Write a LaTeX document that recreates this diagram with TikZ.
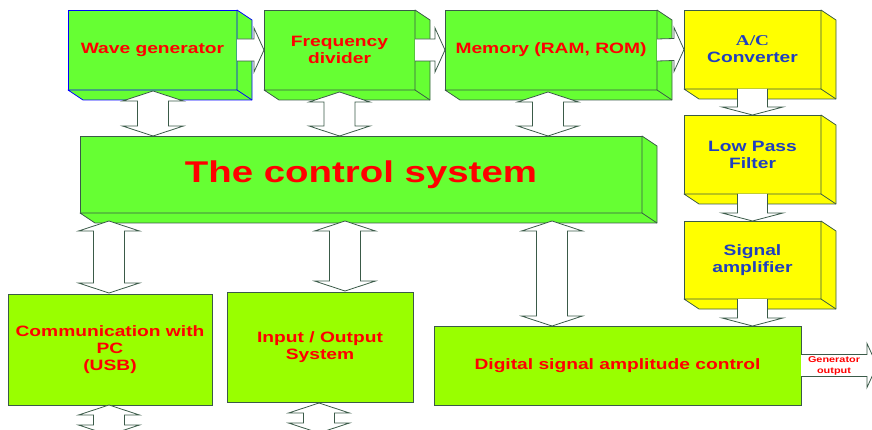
\documentclass[tikz,border=0pt]{standalone}
\usepackage{fontspec}
\setmainfont{Liberation Sans}[FakeStretch=1.28]
\newfontfamily\timesb{Liberation Serif}[FakeStretch=1.28]
\usetikzlibrary{calc}
\definecolor{gtop}{HTML}{66FF33}
\definecolor{gbot}{HTML}{99FF00}
\definecolor{ylw}{HTML}{FFFF00}
\definecolor{edge}{HTML}{3A5A48}
\definecolor{txtred}{HTML}{FF0000}
\definecolor{txtblue}{HTML}{1F3FC0}
\tikzset{
  blk/.style={draw=edge, line width=0.8pt, inner sep=0pt, outer sep=0pt, align=center,
    font=\bfseries\fontsize{15}{17}\selectfont, text=txtred},
  greenblk/.style={blk, fill=gtop},
  ylwblk/.style={blk, fill=ylw, text=txtblue},
  flatblk/.style={blk, fill=gbot},
  hollow/.style={draw=edge, fill=white, line width=0.8pt, line join=miter},
}
% extruded faces of a 3D block
\newcommand\depthfaces[3]{%
  \filldraw[fill=#2, draw=#3, line width=0.8pt, line join=round]
    (#1.north east) -- ++(15,10) -- ($(#1.south east)+(15,10)$) -- ($(#1.south west)+(15,10)$)
    -- (#1.south west) -- (#1.south east) -- cycle;
  \draw[draw=#3, line width=0.8pt] (#1.south east) -- ++(15,10);}
% vertical hollow double arrow, tips #1 (top) and #2 (bottom)
\newcommand\vdarrow[2]{%
  \draw[hollow] (#1) -- ++(30.5,10) -- ++(-15,0) -- ($(#2)+(15.5,-10)$) -- ++(15,0) -- (#2)
    -- ++(-30.5,-10) -- ++(15,0) -- ($(#1)+(-15.5,10)$) -- ++(-15,0) -- cycle;}
% downward hollow single arrow, tail #1, tip #2
\newcommand\vsarrow[2]{%
  \path[hollow] ($(#1)+(-15,0)$) -- ($(#2)+(-15,-8)$) -- ++(-15.5,0) -- (#2) -- ++(30.5,-8)
    -- ++(-15.5,0) -- ($(#1)+(15,0)$);}
% rightward hollow single arrow, tail #1, tip #2
\newcommand\hsarrow[2]{%
  \path[hollow] ($(#1)+(0,-11)$) -- ($(#2)+(-10,-11)$) -- ++(0,-11) -- (#2) -- ++(-10,22)
    -- ++(0,-11) -- ($(#1)+(0,11)$);}
\begin{document}
\begin{tikzpicture}[x=1pt, y=-1pt]
\useasboundingbox (0,0) rectangle (872,430);
\clip (0,0) rectangle (872,430);
% top row
\node[greenblk, draw=blue, minimum width=169pt, minimum height=80pt] (wave) at (152.5,50) {Wave generator};
\depthfaces{wave}{gtop}{blue}
\node[greenblk, minimum width=151pt, minimum height=80pt] (freq) at (339.5,50) {Frequency\\divider};
\depthfaces{freq}{gtop}{edge}
\node[greenblk, minimum width=212pt, minimum height=80pt] (mem) at (551,50) {Memory (RAM, ROM)};
\depthfaces{mem}{gtop}{edge}
% yellow column
\node[ylwblk, minimum width=137pt, minimum height=79pt] (ac) at (752.5,49.5) {{\timesb A/C}\\Converter};
\depthfaces{ac}{ylw}{edge}
\node[ylwblk, minimum width=137pt, minimum height=79pt] (lpf) at (752.5,154.5) {Low Pass\\Filter};
\depthfaces{lpf}{ylw}{edge}
\node[ylwblk, minimum width=137pt, minimum height=78pt] (sa) at (752.5,260) {Signal\\amplifier};
\depthfaces{sa}{ylw}{edge}
% control system
\node[greenblk, minimum width=562pt, minimum height=77pt, font=\bfseries\fontsize{30}{34}\selectfont] (ctrl) at (361,174.5) {The control system};
\depthfaces{ctrl}{gtop}{edge}
% bottom row
\node[flatblk, minimum width=204pt, minimum height=111pt] (comm) at (110,349.5) {Communication with\\PC\\(USB)};
\node[flatblk, minimum width=186pt, minimum height=110pt] (io) at (320,347) {Input / Output\\System};
\node[flatblk, minimum width=367pt, minimum height=79pt] (dig) at (617.5,365.5) {Digital signal amplitude control};
% arrow end points
\coordinate (a1t) at ($(wave.south)+(0.5,1)$);
\coordinate (a1b) at (a1t |- ctrl.north);
\coordinate (a2t) at ($(freq.south)+(0,2)$);
\coordinate (a2b) at (a2t |- ctrl.north);
\coordinate (a3t) at ($(mem.south)+(-3,2)$);
\coordinate (a3b) at (a3t |- ctrl.north);
\coordinate (a4b) at ($(comm.north)+(-1,-1)$);
\coordinate (a4t) at ($(a4b |- ctrl.south)+(0,8)$);
\coordinate (a5b) at ($(io.north)+(25,-1)$);
\coordinate (a5t) at ($(a5b |- ctrl.south)+(0,8)$);
\coordinate (a6b) at ($(dig.north)+(-65.5,0)$);
\coordinate (a6t) at ($(a6b |- ctrl.south)+(0,8)$);
\coordinate (a7t) at ($(comm.south)+(-1,0)$);
\coordinate (a7b) at ($(a7t)+(0,30)$);
\coordinate (a8t) at ($(io.south)+(-1,1)$);
\coordinate (a8b) at ($(a8t)+(0,30)$);
\coordinate (a9) at (sa.south |- dig.north);
\coordinate (gout) at (877,365.5);
% arrows
\hsarrow{wave.east}{freq.west}
\hsarrow{freq.east}{mem.west}
\hsarrow{mem.east}{ac.west}
\vsarrow{ac.south}{lpf.north}
\vsarrow{lpf.south}{sa.north}
\vsarrow{sa.south}{a9}
\vdarrow{a1t}{a1b}
\vdarrow{a2t}{a2b}
\vdarrow{a3t}{a3b}
\vdarrow{a4t}{a4b}
\vdarrow{a5t}{a5b}
\vdarrow{a6t}{a6b}
\vdarrow{a7t}{a7b}
\vdarrow{a8t}{a8b}
\hsarrow{dig.east}{gout}
\node[text=txtred, font=\bfseries\fontsize{8.5}{10.5}\selectfont, align=center, inner sep=0pt] (glabel) at (834,366) {Generator\\output};
\end{tikzpicture}
\end{document}
